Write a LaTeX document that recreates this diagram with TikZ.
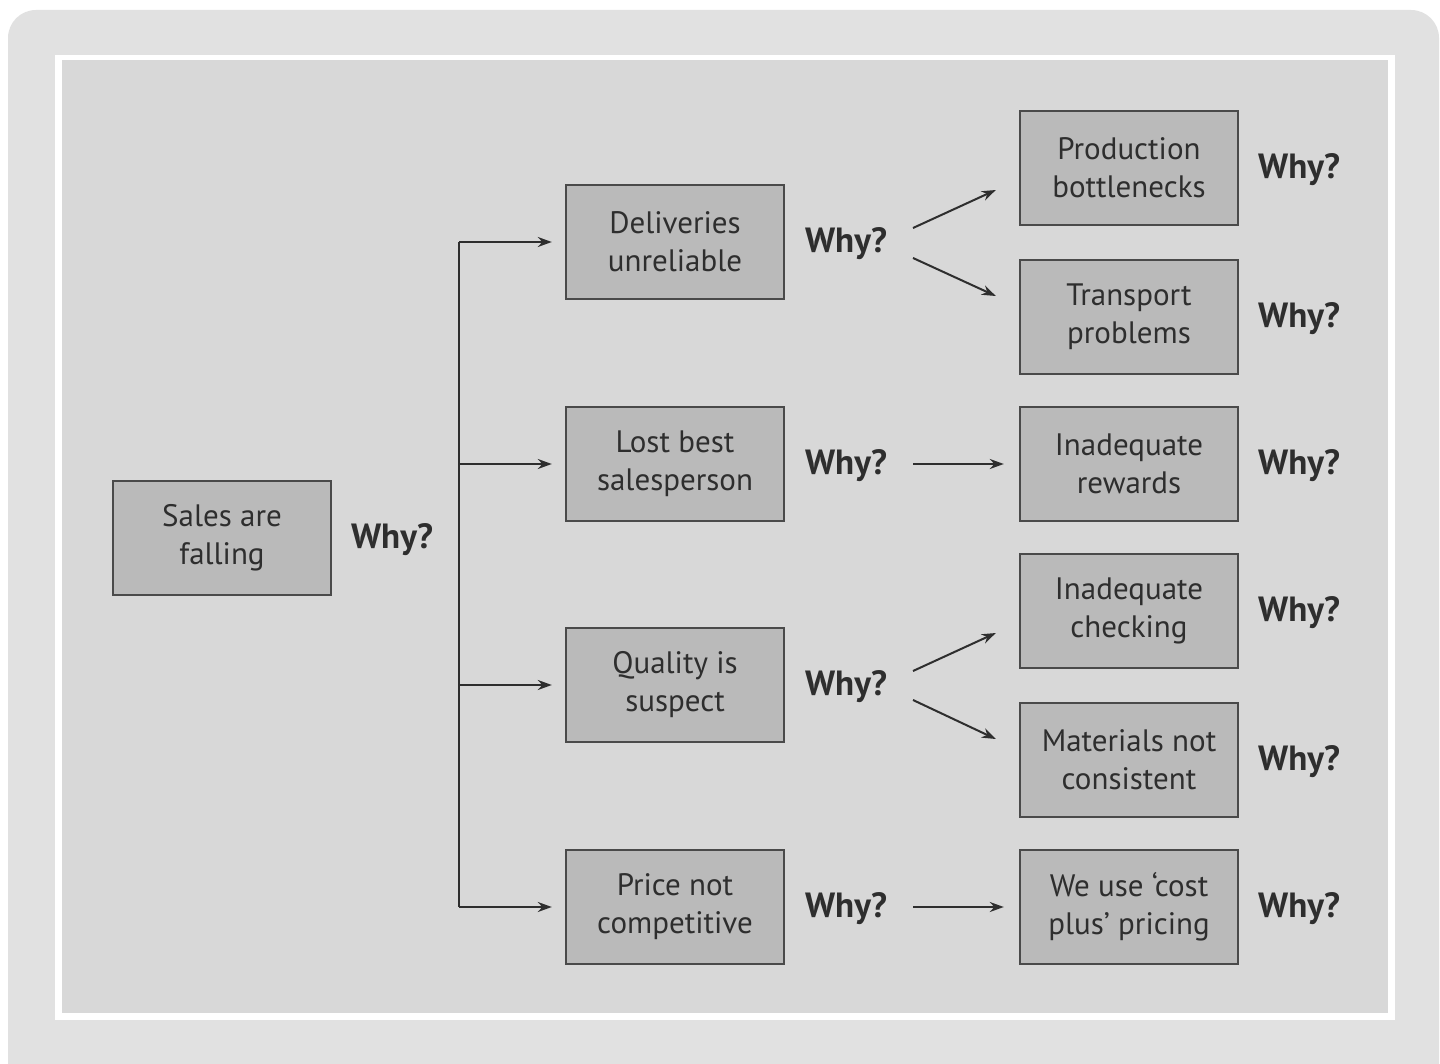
\documentclass[tikz,border=0pt]{standalone}
\usepackage{fontspec}
\setmainfont{PT Sans}
\usetikzlibrary{arrows.meta}
\definecolor{framegray}{HTML}{E1E1E1}
\definecolor{panelgray}{HTML}{D8D8D8}
\definecolor{boxgray}{HTML}{BABABA}
\definecolor{boxline}{HTML}{4A4A4A}
\definecolor{ink}{HTML}{2E2E2E}
\tikzset{
  causebox/.style={draw=boxline, line width=1.2pt, fill=boxgray, minimum width=109pt,
    minimum height=57pt, inner sep=0pt, align=center, font=\fontsize{15.5}{19}\selectfont,
    text=ink},
  whylabel/.style={font=\bfseries\fontsize{17.5}{19}\selectfont, text=ink, inner sep=0pt},
  link/.style={draw=ink, line width=1pt, -{Stealth[length=7pt,width=5pt]}},
  trunk/.style={draw=ink, line width=1pt}
}
\begin{document}
\begin{tikzpicture}[x=0.5pt,y=-0.5pt]
\useasboundingbox (0,0) rectangle (1440,1064);
\fill[white] (0,0) rectangle (1440,1064);
% outer frame and inner panel
\begin{scope}
\clip (0,0) rectangle (1440,1064);
\fill[framegray, rounded corners=14pt] (8,10) rectangle (1439,1100);
\end{scope}
\fill[white] (55,55) rectangle (1395,1020);
\fill[panelgray] (62,60) rectangle (1388,1013);

% root
\node[causebox] (sales) at (222,538) {Sales are\\falling};
\node[whylabel] (why0) at (392,540) {Why?};

% first-level causes
\node[causebox] (deliv) at (675,242) {Deliveries\\unreliable};
\node[causebox] (lost)  at (675,464) {Lost best\\salesperson};
\node[causebox] (qual)  at (675,685) {Quality is\\suspect};
\node[causebox] (price) at (675,907) {Price not\\competitive};

\node[whylabel] (why1) at (846,244) {Why?};
\node[whylabel] (why2) at (846,466) {Why?};
\node[whylabel] (why3) at (846,687) {Why?};
\node[whylabel] (why4) at (846,909) {Why?};

% second-level causes
\node[causebox] (prod)  at (1129,168) {Production\\bottlenecks};
\node[causebox] (trans) at (1129,317) {Transport\\problems};
\node[causebox] (rew)   at (1129,464) {Inadequate\\rewards};
\node[causebox] (check) at (1129,611) {Inadequate\\checking};
\node[causebox] (mat)   at (1129,760) {Materials not\\consistent};
\node[causebox] (cost)  at (1129,907) {We use ‘cost\\plus’ pricing};

\node[whylabel] at (1299,170) {Why?};
\node[whylabel] at (1299,319) {Why?};
\node[whylabel] at (1299,466) {Why?};
\node[whylabel] at (1299,613) {Why?};
\node[whylabel] at (1299,762) {Why?};
\node[whylabel] at (1299,909) {Why?};

% branching trunk from the root
\coordinate (tTop) at (459,242);
\coordinate (tBot) at (459,907);
\draw[trunk] (tTop) -- (tBot);
\draw[link] (tTop) -- ([shift={(-13,0)}]deliv.west);
\draw[link] (459,464) -- ([shift={(-13,0)}]lost.west);
\draw[link] (459,685) -- ([shift={(-13,0)}]qual.west);
\draw[link] (tBot) -- ([shift={(-13,0)}]price.west);

% arrows to second-level causes
\draw[link] ([shift={(67,-16)}]why1.center) -- ([shift={(-23,22)}]prod.west);
\draw[link] ([shift={(67,14)}]why1.center) -- ([shift={(-23,-21)}]trans.west);
\draw[link] ([shift={(67,-2)}]why2.center) -- ([shift={(-15,0)}]rew.west);
\draw[link] ([shift={(67,-16)}]why3.center) -- ([shift={(-23,22)}]check.west);
\draw[link] ([shift={(67,13)}]why3.center) -- ([shift={(-23,-21)}]mat.west);
\draw[link] ([shift={(67,-2)}]why4.center) -- ([shift={(-15,0)}]cost.west);
\end{tikzpicture}
\end{document}
